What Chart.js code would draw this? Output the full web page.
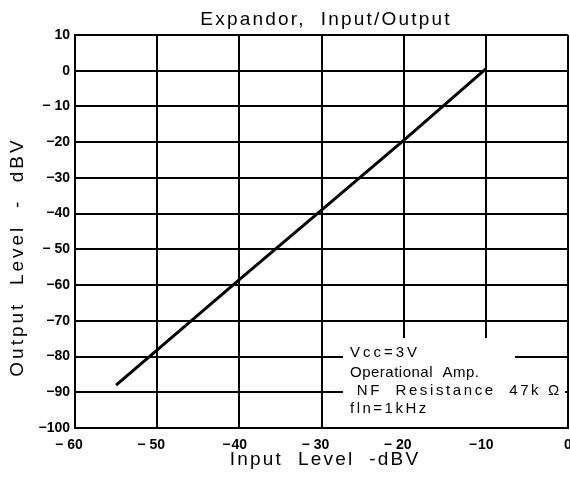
<!DOCTYPE html>
<html>
<head>
<meta charset="utf-8">
<script src="https://cdn.jsdelivr.net/npm/chart.js@4.4.0/dist/chart.umd.min.js"></script>
<style>
	html, body { margin: 0; padding: 0; background: #fff; }
	#wrap { width: 570px; height: 477px; }
</style>
</head>
<body>
<div id="wrap"><canvas id="chart" width="570" height="477"></canvas></div>
<script>
	'use strict';

	// Data (input dBV -> output dBV)
	const inputLevels = [-55, -40, -30, -20, -10];
	const outputLevels = [-88, -58.5, -39, -19.5, 0.5];

	// Tick labels as printed on the figure
	const xTickValues = [-60, -50, -40, -30, -20, -10, 0];
	const xTickLabels = ['− 60', '− 50', '−40', '− 30', '− 20', '−10', '0'];
	const yTickValues = [10, 0, -10, -20, -30, -40, -50, -60, -70, -80, -90, -100];
	const yTickLabels = ['10', '0', '− 10', '−20', '−30', '−40', '− 50', '−60', '−70', '−80', '−90', '−100'];

	const titleText = 'Expandor,  Input/Output';
	const xTitle = 'Input  Level  -dBV';
	const yTitle = 'Output  Level  -  dBV';
	const noteLines = ['Vcc=3V', 'Operational  Amp.', ' NF  Resistance  47k Ω', 'fln=1kHz'];

	const FONT = '"Liberation Sans", Arial, sans-serif';

	// Draw title, axis titles, x tick labels and the note box
	const textPlugin = {
		id: 'texts',
		beforeDatasetsDraw: function(chart) {
			const ctx = chart.ctx;
			const area = chart.chartArea;
			ctx.save();
			// white note box that hides grid lines behind it
			ctx.fillStyle = '#fff';
			ctx.fillRect(343, 338, 172, 24);
			ctx.fillRect(343, 362, 222, area.bottom - 363);
			ctx.fillStyle = '#000';
			ctx.font = '15px ' + FONT;
			ctx.textAlign = 'left';
			ctx.textBaseline = 'alphabetic';
			const bases = [357, 377, 395, 413];
			const spacing = ['3px', '0.5px', '2.6px', '2.5px'];
			noteLines.forEach(function(t, i){
				ctx.letterSpacing = spacing[i];
				ctx.fillText(t, 350, bases[i]);
			});
			ctx.restore();
		},
		afterDraw: function(chart) {
			const ctx = chart.ctx;
			const xs = chart.scales.x;
			ctx.save();
			ctx.fillStyle = '#000';

			// x tick labels: digits centred on the grid line, minus hanging left
			ctx.font = 'bold 14px ' + FONT;
			ctx.textBaseline = 'alphabetic';
			xTickValues.forEach(function(v, i){
				const px = xs.getPixelForValue(v);
				const label = xTickLabels[i];
				const digits = label.replace(/[−\s]/g, '');
				const sign = label.slice(0, label.length - digits.length);
				const w = ctx.measureText(digits).width;
				ctx.textAlign = 'left';
				ctx.fillText(digits, px - w / 2, 449);
				if (sign) {
					ctx.textAlign = 'right';
					ctx.fillText(sign.trim(), px - w / 2 - (sign.length > 1 ? 4 : 1), 449);
				}
			});

			ctx.textAlign = 'center';
			ctx.font = '19px ' + FONT;
			ctx.letterSpacing = '2.2px';
			ctx.fillText(titleText, 326, 25);

			ctx.font = '19px ' + FONT;
			ctx.letterSpacing = '2.2px';
			ctx.fillText(xTitle, 325, 465);

			ctx.letterSpacing = '3px';
			ctx.translate(23, 257);
			ctx.rotate(-Math.PI / 2);
			ctx.fillText(yTitle, 0, 0);
			ctx.restore();
		}
	};

	const ctx = document.getElementById('chart').getContext('2d');
	new Chart(ctx, {
		type: 'line',
		data: {
			datasets: [{
				data: inputLevels.map(function(x, i){ return { x: x, y: outputLevels[i] }; }),
				borderColor: '#000',
				borderWidth: 3,
				pointRadius: 0,
				tension: 0,
				fill: false
			}]
		},
		options: {
			responsive: false,
			animation: false,
			layout: { padding: { top: 35, right: 2, left: 0, bottom: 0 } },
			plugins: {
				legend: { display: false },
				tooltip: { enabled: false },
				title: { display: false }
			},
			scales: {
				x: {
					type: 'linear',
					min: -60,
					max: 0,
					afterFit: function(scale){
						scale.height = 49;
						scale.paddingLeft = 0;
						scale.paddingRight = 0;
					},
					grid: { color: '#000', lineWidth: 2, drawTicks: false },
					border: { color: '#000', width: 2 },
					ticks: { stepSize: 10, display: false }
				},
				y: {
					type: 'linear',
					min: -100,
					max: 10,
					afterFit: function(scale){
						scale.width = 75;
						scale.paddingTop = 0;
						scale.paddingBottom = 0;
					},
					grid: { color: '#000', lineWidth: 2, drawTicks: false },
					border: { color: '#000', width: 2 },
					ticks: {
						stepSize: 10,
						padding: 5,
						color: '#000',
						font: { family: FONT, size: 14, weight: 'bold' },
						callback: function(v){
							const i = yTickValues.indexOf(v);
							return i >= 0 ? yTickLabels[i] : '';
						}
					}
				}
			}
		},
		plugins: [textPlugin]
	});
</script>
</body>
</html>
